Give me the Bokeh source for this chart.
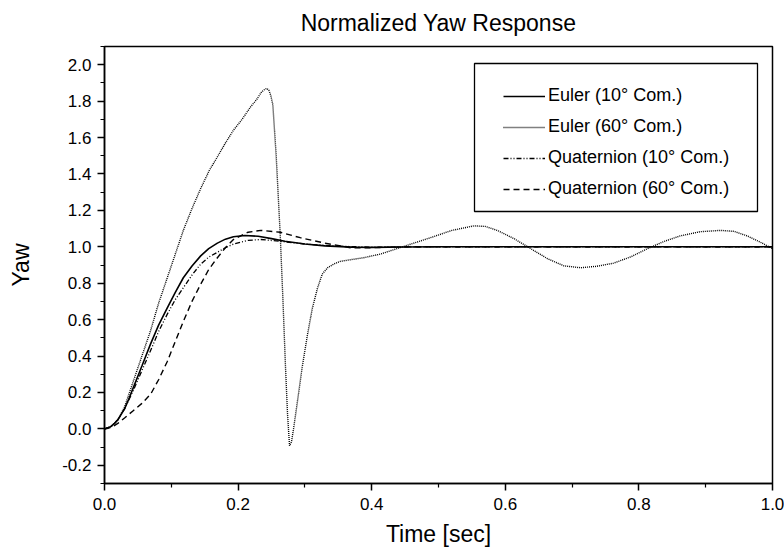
from bokeh.plotting import figure
from bokeh.models import FixedTicker, PrintfTickFormatter, Legend, LegendItem, BoxAnnotation
from bokeh.embed import file_html
from bokeh.resources import INLINE

# ---- data ----
t_e10 = [0, 0.005, 0.01, 0.015, 0.02, 0.025, 0.03, 0.036, 0.043, 0.056, 0.069, 0.081,
         0.094, 0.106, 0.118, 0.131, 0.144, 0.156, 0.169, 0.181, 0.193, 0.21, 0.23,
         0.25, 0.27, 0.3, 0.33, 0.37, 0.4, 0.45, 0.5, 1.0]
v_e10 = [0, 0.004, 0.015, 0.03, 0.05, 0.08, 0.11, 0.16, 0.225, 0.345, 0.467, 0.57,
         0.665, 0.75, 0.83, 0.895, 0.95, 0.99, 1.02, 1.042, 1.055, 1.062, 1.058,
         1.045, 1.03, 1.015, 1.005, 0.998, 0.997, 0.999, 1.0, 1.0]

t_e60 = [0, 0.01, 0.02, 0.03, 0.043, 0.056, 0.069, 0.081, 0.094, 0.106, 0.118, 0.131,
         0.144, 0.157, 0.17, 0.181, 0.193, 0.206, 0.219, 0.228, 0.235, 0.24, 0.243,
         0.246, 0.249, 0.252, 0.257, 0.263, 0.267, 0.271, 0.274, 0.277, 0.28, 0.283,
         0.289, 0.296, 0.304, 0.311, 0.319, 0.326, 0.334, 0.343, 0.353, 0.37, 0.388,
         0.413, 0.438, 0.463, 0.488, 0.52, 0.553, 0.57, 0.588, 0.613, 0.638, 0.663,
         0.688, 0.713, 0.737, 0.762, 0.788, 0.813, 0.838, 0.862, 0.892, 0.922, 0.942,
         0.962, 0.982, 1.0]
v_e60 = [0, 0.012, 0.05, 0.12, 0.26, 0.40, 0.54, 0.69, 0.83, 0.96, 1.09, 1.21,
         1.32, 1.42, 1.5, 1.57, 1.64, 1.70, 1.77, 1.81, 1.85, 1.865, 1.87,
         1.86, 1.83, 1.78, 1.5, 1.07, 0.72, 0.335, 0.08, -0.093, -0.07, 0.0,
         0.155, 0.34, 0.52, 0.66, 0.775, 0.85, 0.885, 0.905, 0.92, 0.93, 0.94,
         0.96, 0.99, 1.02, 1.05, 1.09, 1.115, 1.112, 1.09, 1.045, 0.99, 0.935,
         0.895, 0.885, 0.893, 0.91, 0.945, 0.99, 1.03, 1.06, 1.083, 1.09, 1.085,
         1.06, 1.025, 0.99]

t_q10 = [0, 0.01, 0.02, 0.03, 0.043, 0.056, 0.069, 0.081, 0.094, 0.106, 0.118, 0.131,
         0.144, 0.156, 0.169, 0.181, 0.193, 0.215, 0.234, 0.263, 0.3, 0.35, 0.4, 0.45, 1.0]
v_q10 = [0, 0.013, 0.05, 0.11, 0.21, 0.32, 0.43, 0.535, 0.63, 0.71, 0.775, 0.845,
         0.905, 0.943, 0.97, 0.995, 1.015, 1.035, 1.04, 1.03, 1.015, 1.003, 0.998, 1.0, 1.0]

t_q60 = [0, 0.01, 0.02, 0.03, 0.043, 0.056, 0.069, 0.081, 0.094, 0.106, 0.118, 0.131,
         0.144, 0.156, 0.169, 0.181, 0.193, 0.215, 0.234, 0.263, 0.293, 0.33, 0.368,
         0.4, 0.45, 1.0]
v_q60 = [0, 0.008, 0.03, 0.06, 0.10, 0.14, 0.19, 0.27, 0.37, 0.48, 0.59, 0.70,
         0.795, 0.875, 0.94, 0.995, 1.04, 1.08, 1.09, 1.08, 1.05, 1.02, 0.995,
         0.995, 1.0, 1.0]

title_text = "Normalized Yaw Response"
labels = ["Euler (10° Com.)", "Euler (60° Com.)", "Quaternion (10° Com.)", "Quaternion (60° Com.)"]
x_ticks = [0.0, 0.2, 0.4, 0.6, 0.8, 1.0]
x_minor = [0.1, 0.3, 0.5, 0.7, 0.9]
y_ticks = [-0.2, 0.0, 0.2, 0.4, 0.6, 0.8, 1.0, 1.2, 1.4, 1.6, 1.8, 2.0]
y_minor = [-0.3, -0.1, 0.1, 0.3, 0.5, 0.7, 0.9, 1.1, 1.3, 1.5, 1.7, 1.9, 2.1]

FONT = "Liberation Sans"

p = figure(width=784, height=558, output_backend="svg", toolbar_location=None,
           x_range=(0, 1.0), y_range=(-0.3, 2.1), title=title_text,
           min_border_left=104, min_border_right=12, min_border_top=46, min_border_bottom=75)
p.background_fill_color = "white"
p.border_fill_color = "white"
p.grid.visible = False
p.outline_line_color = "black"
p.outline_line_width = 1.5

p.title.align = "center"
p.title.vertical_align = "top"
p.title.text_font = FONT
p.title.text_font_size = "23px"
p.title.text_font_style = "normal"
p.title.text_color = "black"
p.title.offset = 0
p.title.standoff = 18

for ax in (p.xaxis[0], p.yaxis[0]):
    ax.axis_line_color = "black"
    ax.axis_line_width = 1.5
    ax.major_tick_line_color = "black"
    ax.major_tick_line_width = 1.5
    ax.minor_tick_line_color = "black"
    ax.minor_tick_line_width = 1.2
    ax.major_tick_in = 0
    ax.major_tick_out = 7
    ax.minor_tick_in = 0
    ax.minor_tick_out = 4
    ax.major_label_text_font = FONT
    ax.major_label_text_font_size = "17px"
    ax.major_label_text_color = "black"
    ax.axis_label_text_font = FONT
    ax.axis_label_text_font_size = "23px"
    ax.axis_label_text_font_style = "normal"
    ax.axis_label_text_color = "black"
    ax.formatter = PrintfTickFormatter(format="%.1f")

p.xaxis[0].ticker = FixedTicker(ticks=x_ticks, minor_ticks=x_minor)
p.yaxis[0].ticker = FixedTicker(ticks=y_ticks, minor_ticks=y_minor)
p.xaxis[0].axis_label = "Time [sec]"
p.yaxis[0].axis_label = "Yaw"
p.xaxis[0].major_label_standoff = 7
p.xaxis[0].axis_label_standoff = 8
p.yaxis[0].major_label_standoff = 6
p.yaxis[0].axis_label_standoff = 25

r1 = p.line(t_e10, v_e10, line_color="black", line_width=1.6)
r2 = p.line(t_e60, v_e60, line_color="black", line_width=1.4, line_dash="1 1")
r3 = p.line(t_q10, v_q10, line_color="black", line_width=1.3, line_dash="5 2 1 2 1 2")
r4 = p.line(t_q60, v_q60, line_color="black", line_width=1.4, line_dash="6 4")

# legend frame (screen units relative to frame bottom-left, y upward)
box = BoxAnnotation(left=370, right=653, top=420, bottom=272,
                    left_units="screen", right_units="screen",
                    top_units="screen", bottom_units="screen",
                    fill_color="white", fill_alpha=1.0,
                    line_color="black", line_width=1.3, line_alpha=1.0)
p.add_layout(box)

legend = Legend(items=[LegendItem(label=labels[0], renderers=[r1]),
                       LegendItem(label=labels[1], renderers=[r2]),
                       LegendItem(label=labels[2], renderers=[r3]),
                       LegendItem(label=labels[3], renderers=[r4])],
                location=(399, 284))
legend.border_line_alpha = 0
legend.background_fill_alpha = 0
legend.label_text_font = FONT
legend.label_text_font_size = "18px"
legend.label_text_color = "black"
legend.glyph_width = 42
legend.glyph_height = 20
legend.label_height = 20
legend.spacing = 10
legend.padding = 0
legend.margin = 0
legend.label_standoff = 3
p.add_layout(legend, "center")

open("out.html", "w").write(file_html(p, INLINE))
